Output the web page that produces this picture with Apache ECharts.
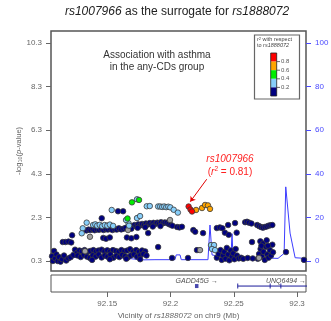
<!DOCTYPE html>
<html><head><meta charset="utf-8">
<script src="https://cdn.jsdelivr.net/npm/echarts@6/dist/echarts.min.js"></script>
<style>html,body{margin:0;padding:0;background:#fff}#c{width:331px;height:321px}</style>
</head><body><div id="c"></div>
<script>
const yTicks = [0.3, 2.3, 4.3, 6.3, 8.3, 10.3];
const rateTicks = [0, 20, 40, 60, 80, 100];
const xTicks = [92.15, 92.2, 92.25, 92.3];

const ldNavy = [
[92.1063,0.52],[92.1070,0.30],[92.1079,0.76],[92.1088,0.42],[92.1098,0.60],[92.1108,0.30],[92.1118,0.48],[92.1130,0.27],[92.1143,0.38],[92.1158,0.55],[92.1175,0.32],[92.1192,0.42],[92.1210,0.47],[92.1232,0.58],
[92.1148,1.17],[92.1170,1.17],[92.1193,1.19],[92.1215,1.15],[92.1222,1.48],[92.1245,0.82],[92.1262,0.68],
[92.1280,0.78],[92.1300,0.74],[92.1320,0.80],[92.1345,0.72],[92.1365,0.76],[92.1390,0.80],[92.1410,0.74],[92.1430,0.78],[92.1455,0.82],[92.1478,0.75],[92.1500,0.79],[92.1522,0.73],[92.1545,0.80],[92.1568,0.76],[92.1590,0.72],[92.1612,0.80],[92.1635,0.75],[92.1658,0.78],[92.1680,0.84],[92.1705,0.74],[92.1728,0.80],[92.1750,0.72],[92.1775,0.78],[92.1800,0.74],
[92.1265,0.55],[92.1290,0.48],[92.1315,0.58],[92.1340,0.50],[92.1362,0.44],[92.1385,0.56],[92.1408,0.50],[92.1432,0.60],[92.1455,0.46],[92.1480,0.55],[92.1502,0.50],[92.1525,0.60],[92.1548,0.45],[92.1572,0.54],[92.1595,0.48],[92.1618,0.58],[92.1640,0.52],[92.1662,0.46],[92.1685,0.55],[92.1710,0.60],[92.1735,0.50],[92.1760,0.56],[92.1785,0.62],[92.1810,0.55],
[92.1380,0.35],[92.1520,0.38],[92.1650,0.40],[92.1760,0.38],
[92.1468,1.36],[92.1490,1.32],[92.1520,1.38],[92.1655,1.38],[92.1690,1.34],[92.1730,1.40],
[92.1335,1.70],[92.1352,1.74],[92.1368,1.72],[92.1385,1.76],[92.1400,1.71],[92.1418,1.75],[92.1435,1.73],[92.1452,1.77],[92.1470,1.72],[92.1488,1.76],[92.1505,1.74],[92.1522,1.78],[92.1540,1.72],[92.1558,1.76],[92.1575,1.74],[92.1592,1.80],[92.1610,1.75],[92.1628,1.78],[92.1645,1.82],
[92.1682,1.92],[92.1698,1.88],[92.1715,1.95],[92.1730,1.90],[92.1745,1.98],[92.1760,1.93],[92.1775,2.00],[92.1790,1.95],[92.1805,2.02],[92.1820,1.97],[92.1835,2.04],[92.1850,1.98],[92.1865,2.05],[92.1880,2.00],[92.1895,2.06],[92.1910,2.02],[92.1925,2.08],[92.1940,2.03],[92.1955,2.07],[92.1970,2.05],[92.1985,2.00],[92.2000,1.96],[92.2015,1.92],
[92.1690,1.78],[92.1740,1.82],[92.1800,1.85],[92.1860,1.88],[92.1920,1.90],
[92.2052,1.86],[92.2070,1.84],[92.2090,1.87],[92.2180,1.72],[92.2195,1.64],
[92.1456,2.26],[92.1585,2.58],[92.1625,2.58],[92.1823,1.58],
[92.1902,0.94],[92.2012,0.44],[92.2138,0.44],[92.2209,0.80],[92.2257,1.58],
[92.2366,1.81],[92.2390,1.84],[92.2410,1.80],[92.2455,1.95],[92.2510,2.04],[92.2523,1.60],
[92.2590,2.08],[92.2605,2.10],[92.2620,2.06],[92.2640,2.02],
[92.2685,1.95],[92.2700,1.90],[92.2715,1.86],[92.2730,1.83],[92.2745,1.86],[92.2760,1.88],[92.2775,1.92],[92.2790,1.94],[92.2805,1.95],
[92.2644,1.17],[92.2710,1.20],[92.2730,1.10],[92.2760,1.25],[92.2430,1.60],[92.2460,1.50],
[92.2366,0.45],[92.2380,0.62],[92.2395,0.80],[92.2405,0.35],[92.2415,0.55],[92.2425,0.72],[92.2435,0.40],[92.2445,0.90],[92.2455,0.60],[92.2465,0.33],[92.2475,0.78],[92.2485,0.50],[92.2495,0.65],[92.2505,0.38],[92.2515,0.85],[92.2525,0.55],[92.2540,0.42],[92.2558,0.45],[92.2575,0.40],[92.2610,0.44],[92.2650,0.42],
[92.2690,0.40],[92.2700,0.62],[92.2712,0.85],[92.2722,0.50],[92.2735,0.72],[92.2745,0.35],[92.2755,0.95],[92.2765,0.60],[92.2775,0.45],[92.2785,0.80],[92.2795,0.55],[92.2805,1.05],[92.2810,0.70],[92.2718,1.00],[92.2770,1.00],
[92.2913,0.71],[92.3055,0.35]
];
const ldLightBlue = [
[92.1337,2.06],[92.1306,1.80],[92.1298,1.57],
[92.1388,1.95],[92.1405,1.98],[92.1420,1.92],[92.1440,1.96],[92.1460,1.90],[92.1480,1.95],[92.1500,1.92],[92.1520,1.97],[92.1546,1.91],
[92.1535,2.64],[92.1668,2.03],[92.1648,2.18],[92.1672,1.92],[92.1735,3.13],[92.1735,2.27],[92.1759,2.36],
[92.1812,2.81],[92.1836,2.82],[92.1902,2.80],[92.1918,2.80],[92.1934,2.78],[92.1950,2.80],[92.1966,2.77],[92.1982,2.79],[92.1998,2.76],[92.2025,2.65],[92.2058,2.52],
[92.2320,1.03],[92.2344,1.03],[92.2328,0.85],[92.2352,0.80]
];
const ldGreen = [[92.1660,2.25],[92.1695,2.99],[92.1751,3.10]];
const ldOrange = [[92.2202,2.64],[92.2249,2.73],[92.2273,2.87],[92.2296,2.85],[92.2312,2.69]];
const ldRed = [[92.2143,2.80],[92.2158,2.66],[92.2170,2.57]];
const ldGrey = [[92.1363,1.41],[92.1664,1.72],[92.1996,2.18],[92.2233,0.80],[92.2699,0.44],[92.1324,0.75]];

const rateX = [92.1059,92.1205,92.1260,92.1363,92.1426,92.1442,92.1458,92.1537,92.1664,92.1774,92.1877,92.2035,92.2045,92.2075,92.2085,92.2130,92.2138,92.2146,92.2296,92.2312,92.2328,92.2391,92.2478,92.2486,92.2494,92.2589,92.2850,92.2898,92.2911,92.2945,92.2985,92.3063];
const rateY = [1.1,1.4,1.7,1.4,1.4,2.1,1.4,1.7,1.2,0.5,0.6,0.6,2.8,2.8,0.6,0.6,2.0,0.6,0.6,16.5,2.8,2.0,1.8,12.5,2.0,1.7,1.2,3.5,34,12.8,1.5,1.2];

const geneNames = ['GADD45G', 'UNQ6494'];
const geneStart = [92.2204, 92.2531];
const geneEnd = [92.2210, 92.3100];
const geneLabelX = [92.2207, 92.2913];
const geneExons = [92.2531, 92.2788, 92.2872];

const legendLabels = ['0.8', '0.6', '0.4', '0.2'];
const legendColors = ['#ff0000', '#ffa500', '#00ee00', '#87cefa', '#000080'];

const FONT = 'Liberation Sans, Arial, sans-serif';
const XMIN = 92.1055, XMAX = 92.3071;
const YMIN = -0.159, YMAX = 10.85;
const RMIN = (YMIN - 0.3) * 10, RMAX = (YMAX - 0.3) * 10;

function pts(color, data, extra) {
  return Object.assign({
    type: 'scatter', xAxisIndex: 0, yAxisIndex: 0, data: data,
    symbolSize: 5.5, z: 3,
    itemStyle: { color: color, borderColor: '#3a3a3a', borderWidth: 0.8, opacity: 1 },
    emphasis: { disabled: true }, animation: false
  }, extra || {});
}

const chart = echarts.init(document.getElementById('c'), null, { renderer: 'canvas' });

const legendGraphics = [
  { type: 'rect', shape: { x: 254.5, y: 35, width: 45, height: 64 }, style: { fill: '#fff', stroke: '#666', lineWidth: 1.2 }, z: 10 },
  { type: 'text', x: 257, y: 39.5, style: { text: '{i|r}{s|2} with respect', fill: '#444', font: '5.5px ' + FONT, verticalAlign: 'middle',
      rich: { i: { fontStyle: 'italic', fontSize: 5.5, fill: '#444' }, s: { fontSize: 4, fill: '#444', verticalAlign: 'top' } } }, z: 11 },
  { type: 'text', x: 257, y: 45.5, style: { text: 'to {i|rs1888072}', fill: '#444', font: '5.5px ' + FONT, verticalAlign: 'middle',
      rich: { i: { fontStyle: 'italic', fontSize: 5.5, fill: '#444' } } }, z: 11 }
];
legendColors.forEach((c, i) => {
  legendGraphics.push({ type: 'rect', shape: { x: 270.7, y: 53 + i * 8.6, width: 6, height: 8.6 }, style: { fill: c, stroke: null }, z: 11 });
});
legendGraphics.push({ type: 'rect', shape: { x: 270.7, y: 53, width: 6, height: 43 }, style: { fill: null, stroke: '#222', lineWidth: 0.8 }, z: 12 });
legendLabels.forEach((t, i) => {
  const yy = 53 + (i + 1) * 8.6;
  legendGraphics.push({ type: 'line', shape: { x1: 276.7, y1: yy, x2: 280, y2: yy }, style: { stroke: '#444', lineWidth: 0.8 }, z: 12 });
  legendGraphics.push({ type: 'text', x: 281, y: yy, style: { text: t, fill: '#555', font: '6px ' + FONT, verticalAlign: 'middle' }, z: 12 });
});

const option = {
  backgroundColor: '#fff',
  animation: false,
  textStyle: { fontFamily: FONT },
  grid: [
    { left: 51, right: 25, top: 31, height: 240, show: true, borderColor: '#555', borderWidth: 1.5, backgroundColor: 'transparent', containLabel: false, outerBoundsMode: 'none' },
    { left: 51, right: 25, top: 275, height: 17, show: true, borderColor: '#555', borderWidth: 1, backgroundColor: 'transparent', containLabel: false, outerBoundsMode: 'none' }
  ],
  xAxis: [
    { type: 'value', gridIndex: 0, min: XMIN, max: XMAX, show: false },
    { type: 'value', gridIndex: 1, min: XMIN, max: XMAX, position: 'bottom',
      axisLine: { show: false }, splitLine: { show: false },
      axisTick: { show: true, customValues: xTicks, length: 5, inside: false, lineStyle: { color: '#666', width: 1 } },
      axisLabel: { show: true, customValues: xTicks, color: '#666', fontSize: 8, margin: 8, fontFamily: FONT },
      name: 'Vicinity of {i|rs1888072} on chr9 (Mb)', nameLocation: 'middle', nameGap: 20, nameMoveOverlap: false,
      nameTextStyle: { color: '#666', fontSize: 8, fontFamily: FONT, rich: { i: { fontStyle: 'italic', fontSize: 8, color: '#666' } } } }
  ],
  yAxis: [
    { type: 'value', gridIndex: 0, min: YMIN, max: YMAX, position: 'left',
      axisLine: { show: false }, splitLine: { show: false },
      axisTick: { show: true, customValues: yTicks, length: 5, lineStyle: { color: '#666' } },
      axisLabel: { show: true, customValues: yTicks, color: '#666', fontSize: 8, margin: 9, formatter: v => v.toFixed(1), fontFamily: FONT },
      name: '-log{sub|10}({i|p}-value)', nameLocation: 'middle', nameGap: 28, nameRotate: 90, nameMoveOverlap: false,
      nameTextStyle: { color: '#666', fontSize: 7.5, fontFamily: FONT,
        rich: { sub: { fontSize: 5.5, color: '#666', verticalAlign: 'bottom' }, i: { fontStyle: 'italic', fontSize: 7.5, color: '#666' } } } },
    { type: 'value', gridIndex: 0, min: RMIN, max: RMAX, position: 'right',
      axisLine: { show: false }, splitLine: { show: false },
      axisTick: { show: true, customValues: rateTicks, length: 5, lineStyle: { color: '#4a4aff' } },
      axisLabel: { show: true, customValues: rateTicks, color: '#4a4aff', fontSize: 8, margin: 9, fontFamily: FONT } },
    { type: 'value', gridIndex: 1, min: 0, max: 1, show: false }
  ],
  series: [
    { type: 'line', name: 'recomb', xAxisIndex: 0, yAxisIndex: 1, data: rateX.map((x, i) => [x, rateY[i]]),
      showSymbol: false, symbol: 'none', z: 1, lineStyle: { color: '#3c3cff', width: 1 }, emphasis: { disabled: true } },
    pts('#000080', ldNavy),
    pts('#a0a0a0', ldGrey),
    pts('#87cefa', ldLightBlue),
    pts('#00ee00', ldGreen),
    pts('#ffa500', ldOrange),
    pts('#ff0000', ldRed, {
      markLine: { silent: true, symbol: ['none', 'arrow'], symbolSize: 5, animation: false,
        lineStyle: { color: '#e00000', width: 1, type: 'solid' }, label: { show: false },
        data: [[{ coord: [92.2286, 4.05] }, { coord: [92.2156, 3.02] }]] }
    }),
    { type: 'line', xAxisIndex: 1, yAxisIndex: 2, data: [[geneStart[1], 0.35], [geneEnd[1], 0.35]],
      showSymbol: false, symbol: 'none', lineStyle: { color: '#1a1a9a', width: 1 }, clip: true },
    { type: 'scatter', xAxisIndex: 1, yAxisIndex: 2, data: geneExons.map(x => [x, 0.35]), symbol: 'rect', symbolSize: [1.2, 5],
      itemStyle: { color: '#1a1a9a' } },
    { type: 'scatter', xAxisIndex: 1, yAxisIndex: 2, data: [[(geneStart[0] + geneEnd[0]) / 2, 0.35]], symbol: 'rect', symbolSize: [3.5, 4],
      itemStyle: { color: '#1a1a9a' } },
    { type: 'scatter', xAxisIndex: 1, yAxisIndex: 2, symbolSize: 0,
      data: geneNames.map((n, i) => ({ name: n, value: [geneLabelX[i], 0.66] })),
      label: { show: true, position: 'inside', color: '#222', fontSize: 7, fontFamily: FONT,
        formatter: p => '{i|' + p.name + '} →', rich: { i: { fontStyle: 'italic', fontSize: 7, color: '#222' } } } }
  ],
  graphic: [
    { type: 'text', x: 177, y: 12, style: { text: '{i|rs1007966} as the surrogate for {i|rs1888072}', align: 'center', verticalAlign: 'middle',
        font: '12px ' + FONT, fill: '#222', rich: { i: { fontStyle: 'italic', fontSize: 12, fill: '#222' } } } },
    { type: 'text', x: 157, y: 61, style: { text: 'Association with asthma\nin the any-CDs group', align: 'center', verticalAlign: 'middle',
        font: '10px ' + FONT, fill: '#333', lineHeight: 12 } },
    { type: 'text', x: 230, y: 166, style: { text: '{i|rs1007966}\n({i|r}{s|2} = 0.81)', align: 'center', verticalAlign: 'middle',
        font: '10px ' + FONT, fill: '#ff2020', lineHeight: 13,
        rich: { i: { fontStyle: 'italic', fontSize: 10, fill: '#ff2020' }, s: { fontSize: 6.5, fill: '#ff2020', verticalAlign: 'top' } } } }
  ].concat(legendGraphics)
};
chart.setOption(option);
</script>
</body></html>
